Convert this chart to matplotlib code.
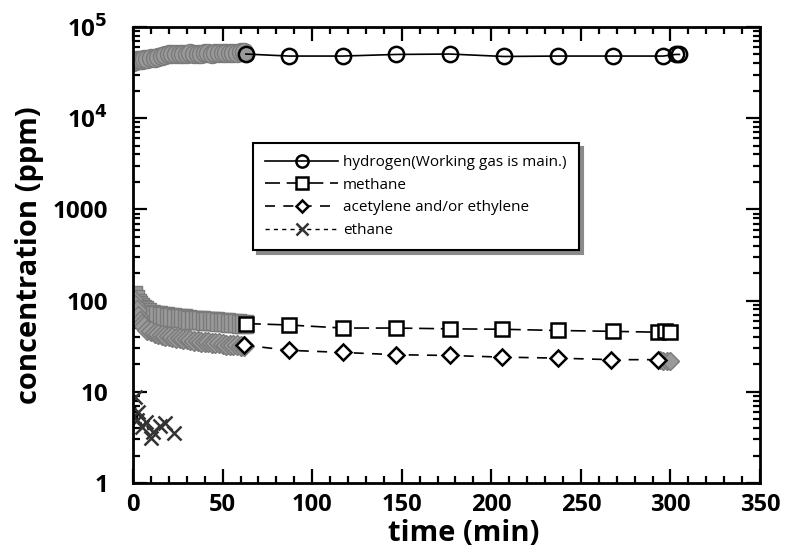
import numpy as np
import matplotlib.pyplot as plt
from matplotlib.ticker import FixedLocator, FixedFormatter, MultipleLocator, LogLocator, NullFormatter

plt.rcParams.update({'font.family': ['Open Sans', 'DejaVu Sans'], 'font.weight': 'bold'})

# hydrogen (working gas) - densely sampled start, then ~30 min intervals
h2_t_dense = [0, 1, 2, 3, 4, 5, 6, 8, 10, 12, 14, 16, 18, 20, 22, 24, 26, 28, 30,
              32, 34, 36, 38, 40, 42, 44, 46, 48, 50, 52, 54, 56, 58, 60, 62]
h2_c_dense = [41000, 42000, 43000, 43500, 44000, 44000, 44500, 45000, 45500, 46000,
              47000, 48000, 49000, 50000, 50500, 51000, 50500, 50000, 51000, 51500,
              51000, 50500, 51000, 52000, 51500, 51000, 52000, 52500, 52000, 51500,
              52000, 52500, 52000, 53000, 53000]
h2_t = [63, 87, 117, 147, 177, 207, 237, 268, 296, 303, 305]
h2_c = [50500, 48000, 48000, 50000, 50500, 47500, 48000, 48000, 48000, 50000, 50000]

# methane
ch4_t_dense = h2_t_dense
ch4_c_dense = [115, 105, 95, 90, 85, 80, 78, 75, 72, 70, 69, 68, 67, 66, 66, 65, 64,
               64, 63, 62, 62, 61, 61, 60, 60, 59, 59, 58, 58, 58, 57, 57, 57, 56, 56]
ch4_t = [63, 87, 117, 147, 177, 206, 237, 268, 293, 297, 300]
ch4_c = [56, 54, 50, 50, 49, 48.5, 47, 46, 45, 46, 45]

# acetylene and/or ethylene
c2h2_t_dense = h2_t_dense
c2h2_c_dense = [105, 90, 78, 68, 60, 55, 52, 48, 46, 44, 43, 42, 41, 40.5, 40, 39,
                38.5, 38, 37.5, 37, 36.5, 36, 35.5, 35, 35, 34.5, 34, 34, 33.5, 33,
                33, 32.5, 32.5, 32, 32]
c2h2_t = [62, 87, 117, 147, 177, 206, 237, 267, 293]
c2h2_c = [32.5, 28.5, 27, 25.5, 25, 24, 23.4, 22.5, 22.5]
c2h2_t_end = [294, 296, 298, 300]
c2h2_c_end = [22.5, 22, 22, 22]

# ethane
c2h6_t = [1, 2, 3, 5, 7, 10, 11, 15, 18, 23]
c2h6_c = [8.8, 4.9, 6.0, 4.1, 4.7, 3.1, 3.6, 4.2, 4.5, 3.5]

y_ticks = [1, 10, 100, 1000, 1e4, 1e5]
y_labels = ['1', '10', '100', '1000', r'10$^4$', r'10$^5$']

gray = '#9a9a9a'
fig = plt.figure(figsize=(7.88, 5.53), dpi=100)
ax = fig.add_axes([0.1688, 0.1266, 0.7957, 0.8246])

# dense early readings, drawn as overlapping gray markers
ax.plot(h2_t_dense, h2_c_dense, 'o', ms=13, mfc=gray, mec='#7a7a7a', mew=1)
ax.plot(ch4_t_dense, ch4_c_dense, 's', ms=13, mfc=gray, mec='#7a7a7a', mew=1)
ax.plot(c2h2_t_dense, c2h2_c_dense, 'D', ms=10, mfc=gray, mec='#7a7a7a', mew=1)
ax.plot(c2h2_t_end, c2h2_c_end, 'D', ms=9, mfc=gray, mec='#7a7a7a', mew=1)

ax.plot(h2_t, h2_c, '-', color='k', lw=1.2, marker='o', ms=11, mfc='none', mec='k', mew=1.8,
        label='hydrogen(Working gas is main.)')
ax.plot(ch4_t, ch4_c, color='k', lw=1.2, ls=(0, (9, 4)), marker='s', ms=10, mfc='white', mec='k', mew=1.8,
        label='methane')
ax.plot(c2h2_t, c2h2_c, color='k', lw=1.2, ls=(0, (6, 5)), marker='D', ms=8, mfc='white', mec='k', mew=1.8,
        label='acetylene and/or ethylene')
ax.plot(c2h6_t, c2h6_c, color='k', lw=1.0, ls=(0, (3, 3)), marker='x', ms=10, mec='#333333', mew=1.8,
        label='ethane')

ax.set_yscale('log')
ax.set_xlim(0, 350)
ax.set_ylim(1, 1e5)
ax.xaxis.set_major_locator(MultipleLocator(50))
ax.xaxis.set_minor_locator(MultipleLocator(10))
ax.yaxis.set_major_locator(FixedLocator(y_ticks))
ax.yaxis.set_major_formatter(FixedFormatter(y_labels))
ax.yaxis.set_minor_locator(LogLocator(base=10, subs=np.arange(2, 10)))
ax.yaxis.set_minor_formatter(NullFormatter())
ax.tick_params(which='both', direction='in', top=True, right=True, width=1.6)
ax.tick_params(which='major', length=10)
ax.tick_params(which='minor', length=5)
ax.tick_params(axis='x', labelsize=17, pad=7)
ax.tick_params(axis='y', labelsize=17.5, pad=18)
for s in ax.spines.values():
    s.set_linewidth(2)

ax.set_xlabel('time (min)', fontsize=21, fontweight='bold')
ax.xaxis.set_label_coords(0.528, -0.08)
ax.set_ylabel('concentration (ppm)', fontsize=21, fontweight='bold', labelpad=6)

leg = ax.legend(loc='upper left', bbox_to_anchor=(0.191, 0.746), borderaxespad=0,
                fancybox=False, frameon=True, edgecolor='k', handlelength=4.8,
                handletextpad=0.3, markerscale=0.8, borderpad=0.8,
                prop={'size': 11, 'weight': 'normal'}, labelspacing=0.5,
                shadow={'color': '#8a8a8a', 'alpha': 1, 'ox': 3, 'oy': -3})
leg.get_frame().set_linewidth(1.5)

fig.savefig('out.png', dpi=100)
